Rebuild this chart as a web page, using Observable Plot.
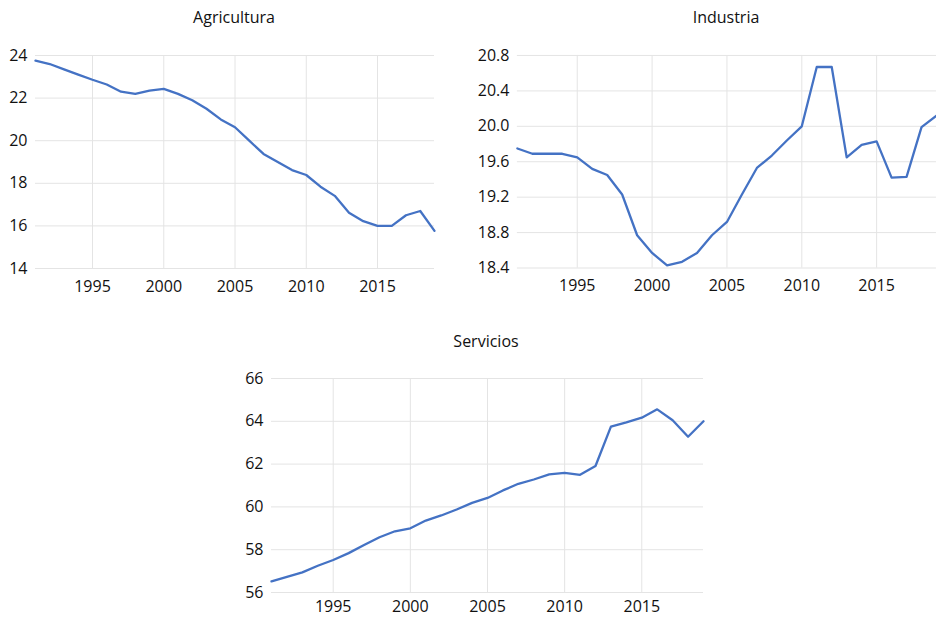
<!DOCTYPE html>
<html>
<head>
<meta charset="utf-8">
<script src="https://cdn.jsdelivr.net/npm/d3@7"></script>
<script src="https://cdn.jsdelivr.net/npm/@observablehq/plot@0.6"></script>
<style>
  html, body { margin: 0; padding: 0; background: #fff; }
  #root { position: relative; width: 936px; height: 618px; overflow: hidden; font-family: "Open Sans", sans-serif; }
  .panel { position: absolute; }
  .title { position: absolute; transform: translate(-50%, -50%); font-size: 16px; color: #111; white-space: nowrap; font-family: "Open Sans", sans-serif; }
</style>
</head>
<body>
<div id="root"></div>
<script>
const years = [1991,1992,1993,1994,1995,1996,1997,1998,1999,2000,2001,2002,2003,2004,2005,2006,2007,2008,2009,2010,2011,2012,2013,2014,2015,2016,2017,2018,2019];
const agricultura = [23.76,23.6,23.35,23.1,22.86,22.64,22.3,22.2,22.35,22.43,22.2,21.9,21.5,21.0,20.63,20.0,19.38,19.0,18.62,18.39,17.84,17.41,16.62,16.22,16.0,16.0,16.5,16.7,15.77];
const industria = [19.75,19.69,19.69,19.69,19.65,19.52,19.45,19.23,18.77,18.57,18.43,18.47,18.57,18.77,18.92,19.23,19.53,19.67,19.84,20.0,20.67,20.67,19.65,19.79,19.83,19.42,19.43,19.99,20.12];
const servicios = [56.52,56.73,56.94,57.25,57.52,57.84,58.22,58.58,58.86,59.0,59.36,59.6,59.88,60.19,60.42,60.77,61.08,61.28,61.52,61.59,61.5,61.91,63.75,63.95,64.17,64.56,64.05,63.28,64.0];
const xTicks = [1995,2000,2005,2010,2015];
const agriTicks = [14,16,18,20,22,24];
const indTicks = [18.4,18.8,19.2,19.6,20.0,20.4,20.8];
const servTicks = [56,58,60,62,64,66];
const titles = ["Agricultura","Industria","Servicios"];

const LINE = "#4472C4";
const GRID = "#e4e4e4";
const TXT = "#111";

function panel({values, yTicks, yFmt, width, height, mt, mb, ml, mr, xPad}) {
  const data = years.map((y, i) => ({year: y, value: values[i]}));
  return Plot.plot({
    width, height,
    marginTop: mt, marginBottom: mb, marginLeft: ml, marginRight: mr,
    style: {fontFamily: "Open Sans, sans-serif", fontSize: "16px", color: TXT, background: "transparent", overflow: "visible"},
    x: {domain: [1991, 2019]},
    y: {domain: [yTicks[0], yTicks[yTicks.length - 1]]},
    marks: [
      Plot.gridX(xTicks, {stroke: GRID, strokeOpacity: 1, strokeWidth: 1}),
      Plot.gridY(yTicks, {stroke: GRID, strokeOpacity: 1, strokeWidth: 1}),
      Plot.axisX(xTicks, {tickSize: 0, tickPadding: xPad, tickFormat: d => String(d), label: null, fontSize: 16, fill: TXT}),
      Plot.axisY(yTicks, {tickSize: 0, tickPadding: 8, tickFormat: yFmt, label: null, fontSize: 16, fill: TXT}),
      Plot.line(data, {x: "year", y: "value", stroke: LINE, strokeWidth: 2.3, clip: false})
    ]
  });
}

const root = document.getElementById("root");
function place(el, left, top) {
  const d = document.createElement("div");
  d.className = "panel";
  d.style.left = left + "px";
  d.style.top = top + "px";
  d.appendChild(el);
  root.appendChild(d);
}
function title(text, cx, cy) {
  const t = document.createElement("div");
  t.className = "title";
  t.textContent = text;
  t.style.left = cx + "px";
  t.style.top = cy + "px";
  root.appendChild(t);
}

place(panel({values: agricultura, yTicks: agriTicks, yFmt: d3.format("d"), width: 450, height: 260, mt: 15, mb: 32, ml: 35, mr: 16, xPad: 12}), 0, 40);
place(panel({values: industria, yTicks: indTicks, yFmt: d3.format(".1f"), width: 477, height: 260, mt: 15, mb: 32, ml: 57, mr: 0, xPad: 12}), 460, 40);
place(panel({values: servicios, yTicks: servTicks, yFmt: d3.format("d"), width: 500, height: 258, mt: 18, mb: 26, ml: 51, mr: 17, xPad: 8}), 220, 360);

title(titles[0], 234, 17);
title(titles[1], 726, 17);
title(titles[2], 486, 341);
</script>
</body>
</html>
